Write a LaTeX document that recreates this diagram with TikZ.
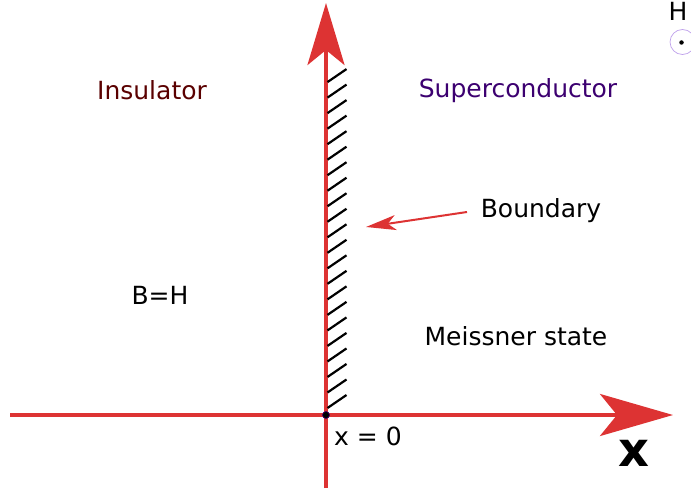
\documentclass[tikz,border=0pt]{standalone}
\usepackage{fontspec}
\setmainfont{DejaVu Sans}
\usetikzlibrary{arrows.meta}
\definecolor{axisred}{RGB}{221,51,51}
\definecolor{insred}{RGB}{90,0,0}
\definecolor{scpurple}{RGB}{60,0,112}
\definecolor{ringpurple}{RGB}{190,160,235}
\begin{document}
\begin{tikzpicture}[x=1pt,y=-1pt,
  lbl/.style={inner sep=0pt,anchor=base,font=\fontsize{25}{30}\selectfont},
  axisline/.style={draw=axisred,line width=4pt},
  hatchline/.style={draw=black,line width=2.2pt}]
\useasboundingbox (0,0) rectangle (691,492);
% axes
\coordinate (xl) at (10,415);
\coordinate (xr) at (673,415);
\coordinate (yb) at (326,488);
\coordinate (yt) at (326,3);
\coordinate (o) at (326,415);
\draw[axisline,-{Stealth[length=73pt,width=42pt,inset=17pt,fill=axisred]}] (xl) -- (xr);
\draw[axisline,-{Stealth[length=62pt,width=37pt,inset=15pt,fill=axisred]}] (yb) -- (yt);
% hatching
\foreach \i in {0,...,21}{
  \draw[hatchline] (327.5,408-\i*15.52) -- (346.5,395-\i*15.52);
}
% origin dot
\node[circle,fill=black,draw=scpurple,line width=0.6pt,inner sep=0pt,minimum size=7pt] (odot) at (o) {};
% labels
\node[lbl,text=insred] (ins) at (152,100) {Insulator};
\node[lbl,text=scpurple] (sc) at (518,98) {Superconductor};
\node[lbl] (bd) at (541,218) {Boundary};
\node[lbl] (bh) at (160,304) {B=H};
\node[lbl] (ms) at (516,345) {Meissner state};
\node[lbl] (x0) at (368,445) {x = 0};
\node[lbl] (hl) at (678,21) {H};
\node[inner sep=0pt,anchor=base,font=\fontsize{48}{55}\selectfont\bfseries] (xlab) at (634,466) {x};
% H out-of-plane symbol
\node[circle,draw=ringpurple,line width=0.7pt,minimum size=25pt,inner sep=0pt] (ring) at (682.5,42) {};
\node[circle,fill=black,inner sep=0pt,minimum size=4.5pt] (ringdot) at (681.5,42.5) {};
% boundary arrow
\coordinate (bs) at (467,212);
\coordinate (bt) at (366,227);
\draw[draw=axisred,line width=2pt,-{Stealth[length=30pt,width=15pt,inset=8pt,fill=axisred]}] (bs) -- (bt);
\end{tikzpicture}
\end{document}
